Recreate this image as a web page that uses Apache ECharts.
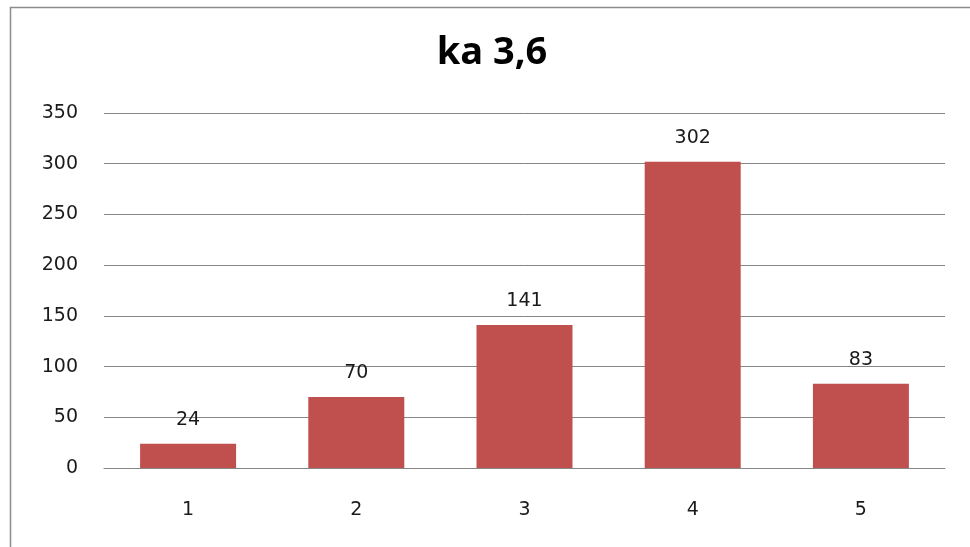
<!DOCTYPE html>
<html>
<head>
<meta charset="utf-8">
<script src="https://cdn.jsdelivr.net/npm/echarts@6/dist/echarts.min.js"></script>
<style>
  html, body { margin: 0; padding: 0; background: #fff; }
  #chart { width: 970px; height: 547px; }
</style>
</head>
<body>
<div id="chart"></div>
<script>
const categories = ["1", "2", "3", "4", "5"];
const values = [24, 70, 141, 302, 83];
const yTicks = { min: 0, max: 350, interval: 50 };

const chart = echarts.init(document.getElementById("chart"));

chart.setOption({
  animation: false,
  title: {
    text: "ka 3,6",
    left: 487,
    top: 29,
    textAlign: "center",
    textStyle: {
      fontFamily: "Open Sans",
      fontWeight: "bold",
      fontSize: 38,
      color: "#000",
    },
  },
  graphic: [
    {
      type: "rect",
      shape: { x: 10.5, y: 7.5, width: 1000, height: 600 },
      style: { fill: "none", stroke: "#8c8c8c", lineWidth: 1.5 },
      silent: true,
    },
  ],
  grid: { left: 104, right: 25, top: 113, bottom: 79 },
  xAxis: {
    type: "category",
    data: categories,
    axisLine: { show: true, lineStyle: { color: "#868686", width: 1 } },
    axisTick: { show: false },
    axisLabel: {
      margin: 33,
      fontFamily: "DejaVu Sans",
      fontSize: 19,
      color: "#1a1a1a",
    },
  },
  yAxis: {
    type: "value",
    min: yTicks.min,
    max: yTicks.max,
    interval: yTicks.interval,
    axisLine: { show: false },
    axisTick: { show: false },
    splitLine: { lineStyle: { color: "#868686", width: 1 } },
    axisLabel: {
      margin: 26,
      fontFamily: "DejaVu Sans",
      fontSize: 19,
      color: "#1a1a1a",
    },
  },
  series: [
    {
      type: "bar",
      data: values,
      barWidth: 96,
      itemStyle: { color: "#C0504D" },
      label: {
        show: true,
        position: "top",
        distance: 14,
        fontFamily: "DejaVu Sans",
        fontSize: 19,
        color: "#1a1a1a",
      },
    },
  ],
});
</script>
</body>
</html>
